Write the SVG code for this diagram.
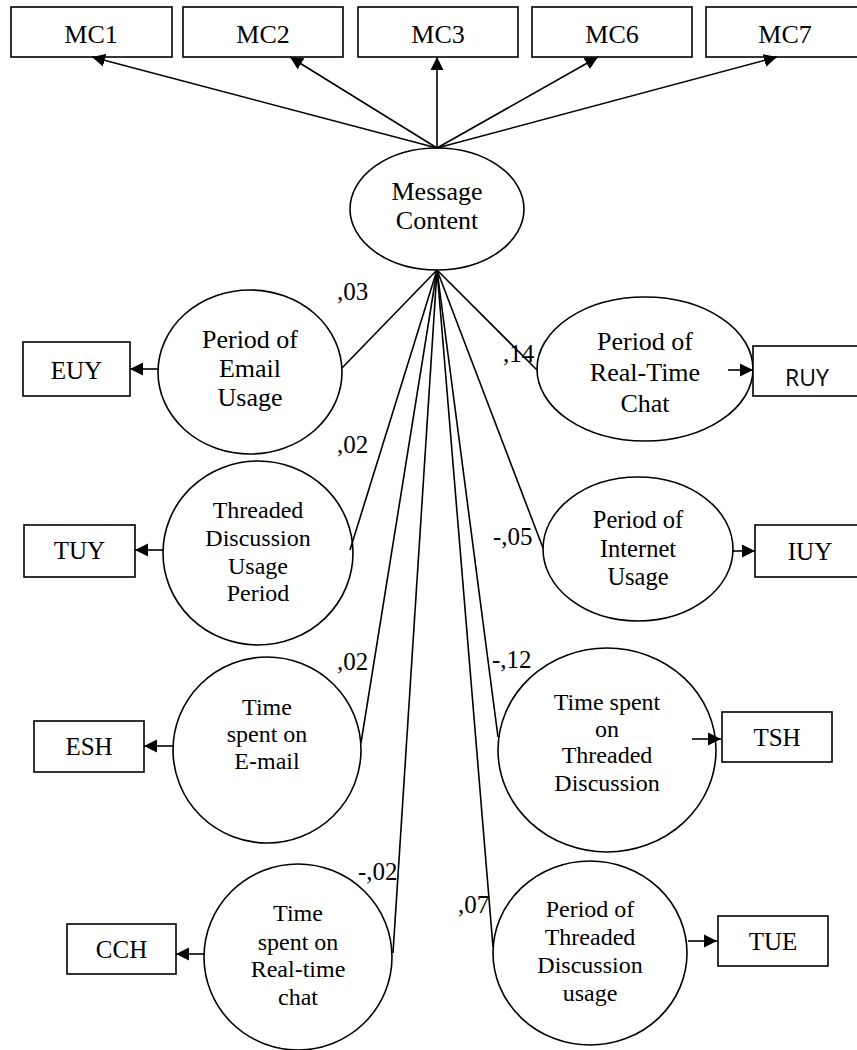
<svg xmlns="http://www.w3.org/2000/svg" width="857" height="1050" viewBox="0 0 857 1050">
<defs>
<style>
.box{fill:#fff;stroke:#000;stroke-width:1.6}
.ell{fill:#fff;stroke:#000;stroke-width:1.6}
.t{font-family:"Liberation Serif","Times New Roman",serif;font-size:25px;fill:#000;text-anchor:middle}
.m{font-size:26px}
.s{font-family:"Open Sans","Liberation Sans",sans-serif;font-size:23px;fill:#000;text-anchor:middle}
.lab{font-family:"Liberation Serif","Times New Roman",serif;font-size:25px;fill:#000}
.c{stroke:#000;stroke-width:1.6;fill:none}
.a{stroke:#000;stroke-width:1.6;fill:none;marker-end:url(#ah)}
</style>
<marker id="ah" markerUnits="userSpaceOnUse" markerWidth="14" markerHeight="14" viewBox="0 0 14 14" refX="13" refY="7" orient="auto">
<path d="M0,0.5 L13,7 L0,13.5 Z" fill="#000"/>
</marker>
</defs>
<rect width="857" height="1050" fill="#fff"/>

<g id="MC1"><rect class="box" x="11" y="7" width="161" height="50"/><text class="t m" x="91" y="43">MC1</text></g>
<g id="MC2"><rect class="box" x="183" y="7" width="160" height="50"/><text class="t m" x="263" y="43">MC2</text></g>
<g id="MC3"><rect class="box" x="358" y="7" width="160" height="50"/><text class="t m" x="438" y="43">MC3</text></g>
<g id="MC6"><rect class="box" x="532" y="7" width="160" height="50"/><text class="t m" x="612" y="43">MC6</text></g>
<g id="MC7"><rect class="box" x="706" y="7" width="160" height="50"/><text class="t m" x="785" y="43">MC7</text></g>

<g id="MessageContent"><ellipse class="ell" cx="437" cy="209" rx="87" ry="61"/>
<text class="t" x="437" y="200" style="font-size:26px">Message</text><text class="t" x="437" y="229" style="font-size:26px">Content</text></g>

<g id="EmailUsage"><ellipse class="ell" cx="250" cy="372" rx="92" ry="82"/>
<text class="t" x="250" y="348" style="font-size:26px">Period of</text><text class="t" x="250" y="377" style="font-size:26px">Email</text><text class="t" x="250" y="406" style="font-size:26px">Usage</text></g>
<g id="EUY"><rect class="box" x="23" y="342" width="107" height="54"/><text class="t" x="76.5" y="379">EUY</text></g>

<g id="ThreadedUsagePeriod"><ellipse class="ell" cx="258" cy="553" rx="95" ry="92"/>
<text class="t" x="258" y="518" style="font-size:24px">Threaded</text><text class="t" x="258" y="546" style="font-size:24px">Discussion</text><text class="t" x="258" y="574" style="font-size:24px">Usage</text><text class="t" x="258" y="601" style="font-size:24px">Period</text></g>
<g id="TUY"><rect class="box" x="24" y="525" width="111" height="52"/><text class="t" x="79.5" y="559">TUY</text></g>

<g id="TimeEmail"><ellipse class="ell" cx="267" cy="750" rx="94" ry="93"/>
<text class="t" x="267" y="715" style="font-size:24px">Time</text><text class="t" x="267" y="742" style="font-size:24px">spent on</text><text class="t" x="267" y="769" style="font-size:24px">E-mail</text></g>
<g id="ESH"><rect class="box" x="34" y="721" width="110" height="51"/><text class="t" x="89" y="755">ESH</text></g>

<g id="TimeChat"><ellipse class="ell" cx="298" cy="957" rx="94" ry="93"/>
<text class="t" x="298" y="921" style="font-size:24px">Time</text><text class="t" x="298" y="950" style="font-size:24px">spent on</text><text class="t" x="298" y="977" style="font-size:24px">Real-time</text><text class="t" x="298" y="1005" style="font-size:24px">chat</text></g>
<g id="CCH"><rect class="box" x="67" y="924" width="109" height="50"/><text class="t" x="121.5" y="958">CCH</text></g>

<g id="RealTimeChat"><ellipse class="ell" cx="645" cy="369" rx="108" ry="72"/>
<text class="t" x="645" y="350" style="font-size:26px">Period of</text><text class="t" x="645" y="381" style="font-size:26px">Real-Time</text><text class="t" x="645" y="412" style="font-size:26px">Chat</text></g>
<g id="RUY"><rect class="box" x="753" y="346" width="110" height="50"/><text class="s" x="807" y="386">RUY</text></g>

<g id="InternetUsage"><ellipse class="ell" cx="638" cy="549" rx="95" ry="72"/>
<text class="t" x="638" y="528" style="font-size:24.5px">Period of</text><text class="t" x="638" y="557" style="font-size:24.5px">Internet</text><text class="t" x="638" y="585" style="font-size:24.5px">Usage</text></g>
<g id="IUY"><rect class="box" x="755" y="525" width="110" height="52"/><text class="t" x="810" y="560">IUY</text></g>

<g id="TimeThreaded"><ellipse class="ell" cx="607" cy="750" rx="109" ry="102"/>
<text class="t" x="607" y="710" style="font-size:24px">Time spent</text><text class="t" x="607" y="737" style="font-size:24px">on</text><text class="t" x="607" y="763" style="font-size:24px">Threaded</text><text class="t" x="607" y="791" style="font-size:24px">Discussion</text></g>
<g id="TSH"><rect class="box" x="722" y="712" width="110" height="50"/><text class="t" x="777" y="746">TSH</text></g>

<g id="PeriodThreaded"><ellipse class="ell" cx="590" cy="953" rx="97" ry="92"/>
<text class="t" x="590" y="917" style="font-size:24px">Period of</text><text class="t" x="590" y="945" style="font-size:24px">Threaded</text><text class="t" x="590" y="973" style="font-size:24px">Discussion</text><text class="t" x="590" y="1001" style="font-size:24px">usage</text></g>
<g id="TUE"><rect class="box" x="718" y="916" width="110" height="50"/><text class="t" x="773" y="950">TUE</text></g>

<g id="connectors">
<line class="a" x1="437" y1="148" x2="92" y2="57"/>
<line class="a" x1="437" y1="148" x2="290" y2="57"/>
<line class="a" x1="437" y1="148" x2="437" y2="57"/>
<line class="a" x1="437" y1="148" x2="598" y2="57"/>
<line class="a" x1="437" y1="148" x2="777" y2="57"/>
<line class="c" x1="437" y1="270" x2="342" y2="368"/>
<line class="c" x1="437" y1="270" x2="350" y2="550"/>
<line class="c" x1="437" y1="270" x2="361" y2="743"/>
<line class="c" x1="437" y1="270" x2="393" y2="953"/>
<line class="c" x1="437" y1="270" x2="537" y2="370"/>
<line class="c" x1="437" y1="270" x2="543" y2="548"/>
<line class="c" x1="437" y1="270" x2="498" y2="737"/>
<line class="c" x1="437" y1="270" x2="493" y2="947"/>
<line class="a" x1="158" y1="369" x2="130" y2="369"/>
<line class="a" x1="163" y1="550" x2="135" y2="550"/>
<line class="a" x1="173" y1="746" x2="144" y2="746"/>
<line class="a" x1="204" y1="954" x2="176" y2="954"/>
<line class="a" x1="728" y1="370" x2="753" y2="370"/>
<line class="a" x1="733" y1="551" x2="755" y2="551"/>
<line class="a" x1="692" y1="739" x2="721" y2="739"/>
<line class="a" x1="688" y1="941" x2="717" y2="941"/>
<text class="lab" x="337" y="300">,03</text>
<text class="lab" x="337" y="453">,02</text>
<text class="lab" x="337" y="670">,02</text>
<text class="lab" x="358" y="880">-,02</text>
<text class="lab" x="503" y="362">,14</text>
<text class="lab" x="493" y="545">-,05</text>
<text class="lab" x="492" y="668">-,12</text>
<text class="lab" x="458" y="913">,07</text>
</g>
</svg>
